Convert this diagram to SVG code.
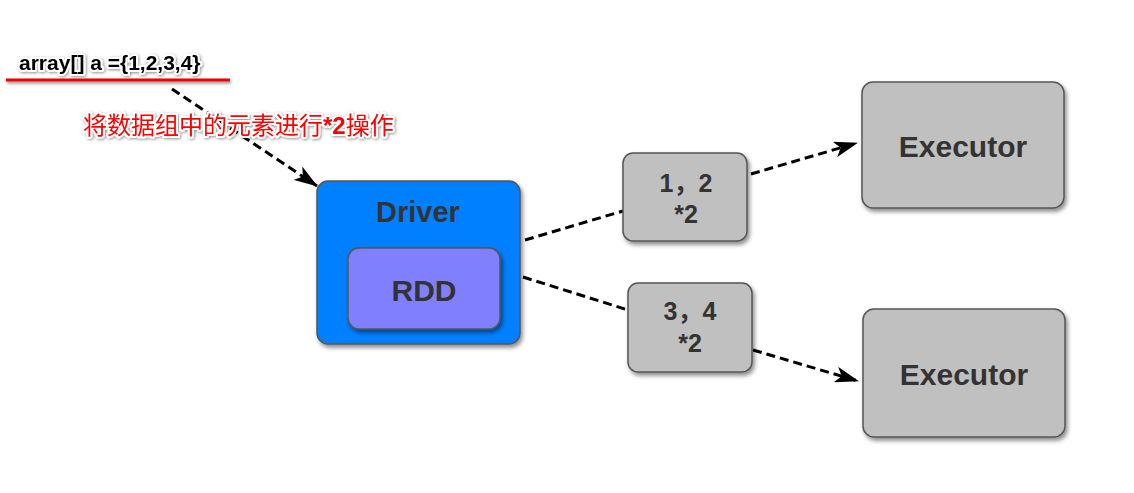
<svg xmlns="http://www.w3.org/2000/svg" width="1134" height="493" viewBox="0 0 1134 493">
<style>
.box{stroke:#555;stroke-width:1.5;filter:url(#sh)}
.lbl{font-family:"Liberation Sans",Arial,"Noto Sans CJK SC",sans-serif;font-weight:bold;fill:#333;text-anchor:middle}
.conn{stroke:#000;stroke-width:3;stroke-dasharray:9,5;fill:none}
.halo{paint-order:stroke;stroke:#fff;stroke-width:4;stroke-linejoin:round;filter:url(#tsh)}
</style>
<defs>
<filter id="sh" x="-10%" y="-10%" width="130%" height="130%">
<feDropShadow dx="2" dy="3" stdDeviation="2" flood-color="#000" flood-opacity="0.45"/>
</filter>
<filter id="tsh" x="-10%" y="-30%" width="120%" height="160%">
<feDropShadow dx="1" dy="1" stdDeviation="1.5" flood-color="#000" flood-opacity="0.45"/>
</filter>
<filter id="lsh" filterUnits="userSpaceOnUse" x="0" y="70" width="245" height="25">
<feDropShadow dx="1" dy="2" stdDeviation="1.5" flood-color="#000" flood-opacity="0.45"/>
</filter>
<marker id="arr" viewBox="0 0 24 16" refX="23" refY="8" markerWidth="24" markerHeight="16" markerUnits="userSpaceOnUse" orient="auto">
<path d="M0,0 L24,8 L0,16 L6,8 Z" fill="#000"/>
</marker>
</defs>
<rect width="1134" height="493" fill="#fff"/>

<g id="title">
<line x1="6" y1="80" x2="230" y2="80" stroke="#e00" stroke-width="3" filter="url(#lsh)"/>
<text x="19" y="70" class="halo" font-family="'Liberation Sans',Arial,sans-serif" font-weight="bold" font-size="21" fill="#000">array[] a ={1,2,3,4}</text>
</g>

<g id="connectors">
<line class="conn" x1="172" y1="89" x2="317" y2="186" marker-end="url(#arr)"/>
<line class="conn" x1="525" y1="240" x2="623" y2="211"/>
<line class="conn" x1="751" y1="174" x2="857" y2="143" marker-end="url(#arr)"/>
<line class="conn" x1="523" y1="277" x2="628" y2="310"/>
<line class="conn" x1="753" y1="350" x2="858" y2="381" marker-end="url(#arr)"/>
</g>

<g id="note">
<text x="83" y="134" class="halo" font-family="'Liberation Sans','Noto Sans CJK SC',sans-serif" font-size="24" fill="#f00">将数据组中的元素进行<tspan font-weight="bold">*2</tspan>操作</text>
</g>

<g id="driver">
<rect class="box" x="317" y="181" width="203" height="163" rx="11" fill="#0080ff"/>
<text class="lbl" x="418" y="222" font-size="29">Driver</text>
</g>
<g id="rdd">
<rect class="box" x="348" y="248" width="152" height="81" rx="11" fill="#8080ff"/>
<text class="lbl" x="424" y="301" font-size="30">RDD</text>
</g>

<g id="part1">
<rect class="box" x="623" y="153" width="124" height="88" rx="10" fill="#c0c0c0"/>
<text class="lbl" x="686" y="192" font-size="25">1，2</text>
<text class="lbl" x="686" y="223" font-size="25">*2</text>
</g>
<g id="part2">
<rect class="box" x="628" y="283" width="124" height="89" rx="10" fill="#c0c0c0"/>
<text class="lbl" x="690" y="320" font-size="25">3，4</text>
<text class="lbl" x="690" y="352" font-size="25">*2</text>
</g>

<g id="exec1">
<rect class="box" x="862" y="82" width="202" height="126" rx="11" fill="#c0c0c0"/>
<text class="lbl" x="963" y="157" font-size="30">Executor</text>
</g>
<g id="exec2">
<rect class="box" x="863" y="309" width="202" height="128" rx="11" fill="#c0c0c0"/>
<text class="lbl" x="964" y="385" font-size="30">Executor</text>
</g>
</svg>
